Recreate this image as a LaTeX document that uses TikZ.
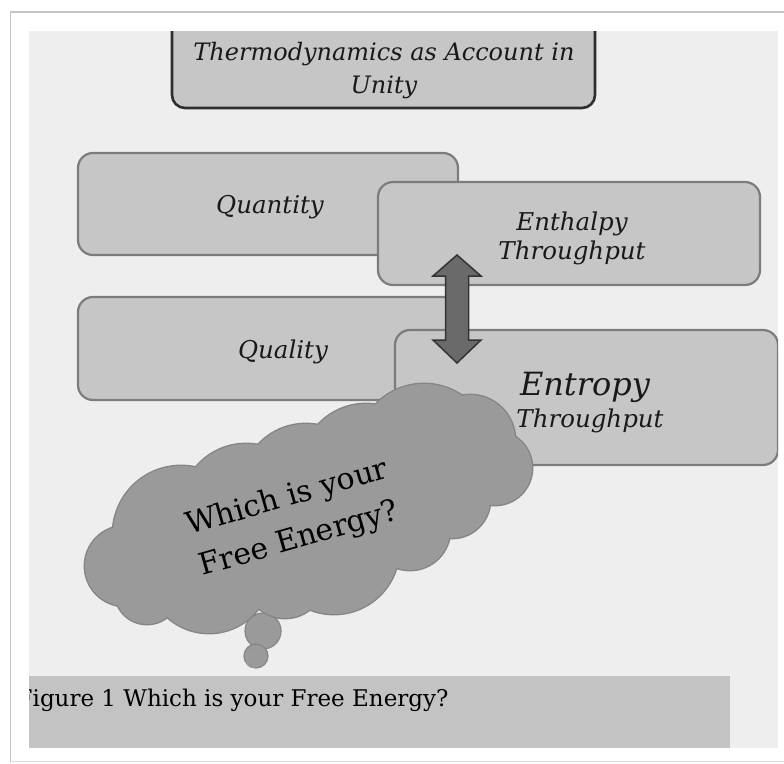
\documentclass[tikz,border=0pt]{standalone}
\usepackage{fontspec}
\setmainfont{DejaVu Serif}
\definecolor{bgin}{HTML}{EEEEEE}
\definecolor{boxfill}{HTML}{C6C6C6}
\definecolor{boxline}{HTML}{7C7C7C}
\definecolor{titleline}{HTML}{2E2E2E}
\definecolor{cloudfill}{HTML}{9A9A9A}
\definecolor{cloudline}{HTML}{858585}
\definecolor{arrowfill}{HTML}{6A6A6A}
\definecolor{arrowline}{HTML}{333333}
\definecolor{capfill}{HTML}{C3C3C3}
\definecolor{frameline}{HTML}{C4C4C4}
\begin{document}
\begin{tikzpicture}[x=1pt,y=-1pt,
  panel/.style={draw=boxline, line width=2.2pt, fill=boxfill, rounded corners=15pt, inner sep=0pt},
  titlebox/.style={draw=titleline, line width=2.6pt, fill=boxfill, rounded corners=13pt, inner sep=0pt},
  lbl/.style={font=\itshape\fontsize{24.5}{29}\selectfont, align=center, text=black!90, inner sep=0pt},
  puff/.style={draw=cloudline, fill=cloudfill, line width=1.2pt},
  blockarrow/.style={draw=arrowline, fill=arrowfill, line width=1.5pt, line join=miter}
]
\useasboundingbox (0,0) rectangle (784,763);
\fill[white] (0,0) rectangle (784,763);
% outer frame
\draw[frameline, line width=1.5pt] (10.5,762) -- (10.5,12) -- (784,12);
\draw[frameline!60, line width=1pt] (10.5,761.5) -- (784,761.5);
\fill[bgin] (29,31) rectangle (778,748);
\begin{scope}
\clip (29,31) rectangle (778,748);
% title
\node[titlebox, minimum width=423pt, minimum height=100pt] (title) at (383.5,58) {};
\node[lbl, font=\itshape\fontsize{24}{33}\selectfont] (titletxt) at (384,71) {Thermodynamics as Account in\\Unity};
% boxes
\node[panel, minimum width=380pt, minimum height=102pt] (quantity) at (268,204) {};
\node[lbl] (quantitytxt) at (270,207) {Quantity};
\node[panel, minimum width=382pt, minimum height=103pt] (enthalpy) at (569,233.5) {};
\node[lbl] (enthalpytxt) at (572,238) {Enthalpy\\Throughput};
\node[panel, minimum width=380pt, minimum height=103pt] (quality) at (268,348.5) {};
\node[lbl] (qualitytxt) at (283,352) {Quality};
\node[panel, minimum width=383pt, minimum height=135pt] (entropy) at (586.5,397.5) {};
\node[lbl, font=\itshape\fontsize{32}{32}\selectfont] (entropytxt) at (585,387) {Entropy};
\node[lbl] (entropytxt2) at (590,421) {Throughput};
% double block arrow between enthalpy and entropy
\coordinate (arrtop) at (457,255);
\coordinate (arrbot) at (457,363);
\path[blockarrow] (arrtop) -- ++(24,21) -- ++(-12.5,0) -- ++(0,64) -- ++(12.5,0)
  -- (arrbot) -- ++(-24,-23) -- ++(12.5,0) -- ++(0,-64) -- ++(-12.5,0) -- cycle;
% tail bubbles
\node[puff, circle, minimum size=36pt, inner sep=0pt] (b1) at (263,631) {};
\node[puff, circle, minimum size=24pt, inner sep=0pt] (b2) at (256,656) {};
\node[draw=cloudline!80, line width=1pt, circle, minimum size=13pt, inner sep=0pt] (b3) at (253,661) {};
% cloud as union of puffs
\def\puffs{125/566/40, 181/534/68, 246/509/65, 306/489/65, 366/469/65, 424/451/67,
  470/440/45, 495/468/37, 452/500/38, 410/530/40, 334/549/65, 285/578/40, 209/571/62, 147/592/32}
\foreach \u/\v/\r in \puffs {\fill[cloudline] (\u,\v) circle[radius={(\r+1.4)*1pt}];}
\foreach \u/\v/\r in \puffs {\fill[cloudfill] (\u,\v) circle[radius={\r*1pt}];}
\fill[cloudfill] (125,566) -- (181,534) -- (246,509) -- (306,489) -- (366,469) -- (424,451)
  -- (470,440) -- (495,468) -- (452,500) -- (410,530) -- (334,549) -- (285,578)
  -- (209,571) -- (147,592) -- cycle;
\node[rotate=16, align=center, font=\fontsize{30}{43}\selectfont, inner sep=0pt] (question) at (293,519) {Which is your\\Free Energy?};
% caption
\fill[capfill] (29,676) rectangle (730,748);
\node[anchor=base west, font=\fontsize{23}{27}\selectfont, inner sep=0pt] (caption) at (16.5,706) {Figure 1 Which is your Free Energy?};
\end{scope}
\end{tikzpicture}
\end{document}
